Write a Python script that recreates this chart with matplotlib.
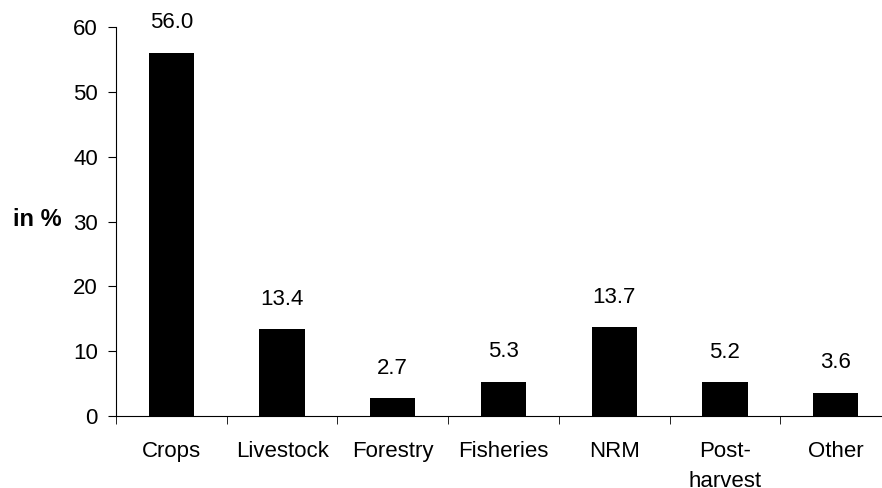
import matplotlib
matplotlib.use("Agg")
from matplotlib import pyplot as plt
import numpy as np

categories = ["Crops", "Livestock", "Forestry", "Fisheries", "NRM", "Post-\nharvest", "Other"]
shares = [56.0, 13.4, 2.7, 5.3, 13.7, 5.2, 3.6]
yticks = [0, 10, 20, 30, 40, 50, 60]

plt.rcParams['font.family'] = ['Liberation Sans', 'DejaVu Sans']
plt.rcParams['font.size'] = 16

fig = plt.figure(figsize=(8.82, 4.88), dpi=100)
ax = fig.add_axes([116/882, 1-416/488, 775/882, (416-27)/488])

x = np.arange(len(categories))
bars = ax.bar(x, shares, width=0.41, color="black")
for xi, v in zip(x, shares):
    ax.annotate("%.1f" % v, (xi, v), xytext=(0, 14), textcoords="offset points",
                ha="center", va="bottom", fontsize=16)

ax.set_xlim(-0.5, len(categories) - 0.5)
ax.set_ylim(0, 60)
ax.set_yticks(yticks)
ax.set_xticks(x)
ax.set_xticklabels(categories, linespacing=1.55, va="top")
ax.set_xticks(np.arange(len(categories) + 1) - 0.5, minor=True)
ax.tick_params(axis="x", which="major", length=0, pad=18)
ax.tick_params(axis="x", which="minor", length=6, direction="out")
ax.tick_params(axis="y", length=6, pad=7, direction="out")
ax.spines["top"].set_visible(False)
ax.spines["right"].set_visible(False)

fig.text(62/882, 1-219/488, "in %", ha="right", va="center", fontweight="bold", fontsize=17)

plt.savefig("out.png", dpi=100)
